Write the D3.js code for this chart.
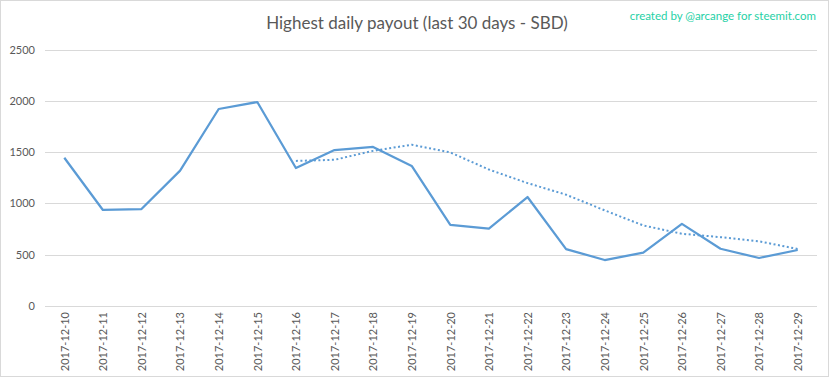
<!DOCTYPE html>
<html><head><meta charset="utf-8">
<script src="https://cdn.jsdelivr.net/npm/d3@7"></script>
<style>body{margin:0;background:#fff}svg{display:block}</style>
</head><body>
<script>
const categories = ["2017-12-10","2017-12-11","2017-12-12","2017-12-13","2017-12-14","2017-12-15","2017-12-16","2017-12-17","2017-12-18","2017-12-19","2017-12-20","2017-12-21","2017-12-22","2017-12-23","2017-12-24","2017-12-25","2017-12-26","2017-12-27","2017-12-28","2017-12-29"];
const payout = [1445,936,945,1319,1920,1988,1345,1520,1550,1365,790,753,1062,555,448,520,800,558,468,546];
const trend = [null,null,null,null,null,null,1414,1425,1512,1572,1497,1330,1198,1085,932,785,704,671,630,556];
const yTicks = [0,500,1000,1500,2000,2500];
const title = "Highest daily payout (last 30 days - SBD)";
const credit = "created by @arcange for steemit.com";

(function(){
const W = 833, H = 379;
const svg = d3.select("body").append("svg").attr("width", W).attr("height", H);
svg.append("rect").attr("x",0.5).attr("y",0.5).attr("width",828).attr("height",376)
  .attr("fill","#fff").attr("stroke","#d9d9d9");

const mL = 45, mR = 817, mT = 49.5, mB = 306;
const x = d3.scalePoint().domain(categories).range([mL, mR]).padding(0.5);
const y = d3.scaleLinear().domain([0,2500]).range([mB, mT]);
const font = "Lato, 'Open Sans', sans-serif";

svg.append("g").selectAll("line").data(yTicks).join("line")
  .attr("x1", mL).attr("x2", mR)
  .attr("y1", d => Math.round(y(d))+0.5).attr("y2", d => Math.round(y(d))+0.5)
  .attr("stroke", "#d9d9d9").attr("stroke-width", 1);

const yAxis = svg.append("g").attr("transform", `translate(${mL},0)`)
  .call(d3.axisLeft(y).tickValues(yTicks).tickFormat(d3.format("d")).tickSize(0).tickPadding(10));
yAxis.select(".domain").remove();
yAxis.selectAll("text").attr("font-family", font).attr("font-size", 11).attr("fill", "#595959");

const xAxis = svg.append("g").attr("transform", `translate(0,${mB})`)
  .call(d3.axisBottom(x).tickSize(0));
xAxis.select(".domain").remove();
xAxis.selectAll("text")
  .attr("font-family", font).attr("font-size", 11).attr("fill", "#595959")
  .attr("transform", "rotate(-90)").attr("text-anchor", "end")
  .attr("x", -6).attr("y", 0).attr("dy", "0.35em");

const line = d3.line().defined(d => d.v != null).x(d => x(d.c)).y(d => y(d.v));
svg.append("path").datum(categories.map((c,i)=>({c, v: trend[i]})))
  .attr("d", line).attr("fill","none").attr("stroke","#5b9bd5")
  .attr("stroke-width",2).attr("stroke-dasharray","2,2.5");
svg.append("path").datum(categories.map((c,i)=>({c, v: payout[i]})))
  .attr("d", line).attr("fill","none").attr("stroke","#5b9bd5")
  .attr("stroke-width",2.25).attr("stroke-linejoin","round");

svg.append("text").attr("x", 417).attr("y", 29).attr("text-anchor","middle")
  .attr("font-family", font).attr("font-size", 17).attr("fill","#595959").text(title);
svg.append("text").attr("x", 816).attr("y", 20).attr("text-anchor","end")
  .attr("font-family", font).attr("font-size", 11.5).attr("fill","#1fd1a6").text(credit);
})();
</script>
</body></html>
